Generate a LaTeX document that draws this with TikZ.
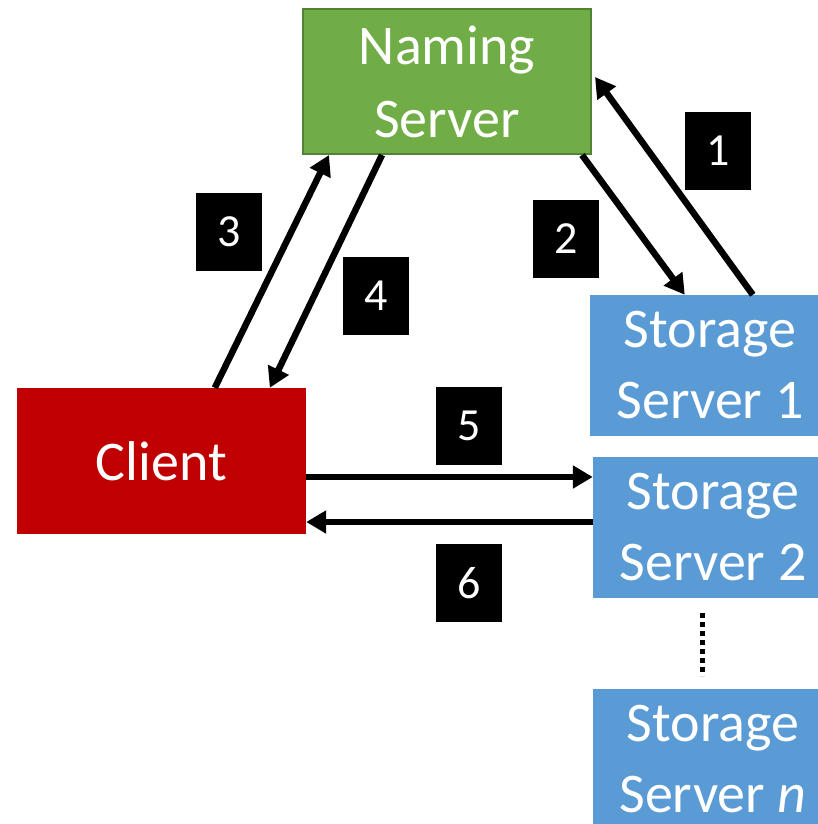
\documentclass[tikz,border=0pt]{standalone}
\usepackage{fontspec}
\setmainfont{Carlito}
\usetikzlibrary{arrows.meta}
\definecolor{ngreen}{HTML}{70AD47}
\definecolor{ngreenb}{HTML}{548235}
\definecolor{sblue}{HTML}{5B9BD5}
\definecolor{cred}{HTML}{C00000}
\tikzset{
  boxbase/.style={rectangle, inner sep=0pt, text=white, align=center,
    font=\fontsize{56}{71}\selectfont},
  namingbox/.style={boxbase, fill=ngreen, draw=ngreenb, line width=2pt,
    minimum width=288pt, minimum height=145pt, font=\fontsize{56}{73}\selectfont},
  storebox/.style={boxbase, fill=sblue, minimum width=240pt, minimum height=141pt},
  clientbox/.style={boxbase, fill=cred, minimum width=289pt, minimum height=146pt},
  numtag/.style={rectangle, fill=black, text=white, inner sep=0pt,
    minimum width=66pt, minimum height=78pt, font=\fontsize{46}{50}\selectfont},
  conn/.style={line width=6.5pt, -{Triangle[length=20pt,width=22pt]}},
}
\begin{document}
\begin{tikzpicture}[x=1pt,y=-1pt]
\useasboundingbox (0,0) rectangle (818,824);
\node[namingbox] (naming) at (447,81.5) {Naming\\Server};
\node[storebox] (ss1) at (710,365.5) {Storage\\Server 1};
\node[storebox] (ss2) at (713,527.5) {Storage\\Server 2};
\node[storebox] (ssn) at (713,759) {Storage\\Server \textit{n}};
\node[clientbox] (client) at (161.5,461) {Client};
\coordinate (dottop) at (702,613);
\coordinate (dotbot) at (702,676);
\draw[line width=5pt, dash pattern=on 5pt off 4pt] (dottop) -- (dotbot);
% arrows
\draw[conn] ([xshift=198pt]client.north west) -- ([xshift=27pt]naming.south west);
\draw[conn] ([xshift=80pt]naming.south west) -- ([xshift=253pt]client.north west);
\draw[conn] ([xshift=280pt]naming.south west) -- ([xshift=95pt]ss1.north west);
\draw[conn] ([xshift=163pt]ss1.north west) -- ([xshift=3pt,yshift=-69pt]naming.north east);
\draw[conn] ([yshift=-16pt]client.east) -- ([yshift=50.5pt]ss2.west);
\draw[conn] ([yshift=5.5pt]ss2.west) -- ([yshift=-61pt]client.east);
% tags
\node[numtag] (t1) at (718,151) {1};
\node[numtag] (t2) at (566,239) {2};
\node[numtag] (t3) at (229,232) {3};
\node[numtag] (t4) at (376,296) {4};
\node[numtag] (t5) at (469,426) {5};
\node[numtag] (t6) at (469,583) {6};
\end{tikzpicture}
\end{document}
